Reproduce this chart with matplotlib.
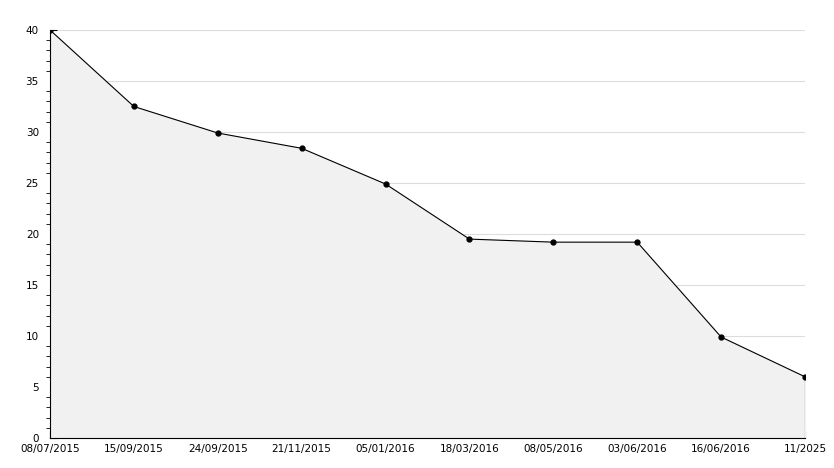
import numpy as np
import matplotlib.pyplot as plt

dates = ['08/07/2015', '15/09/2015', '24/09/2015', '21/11/2015', '05/01/2016',
         '18/03/2016', '08/05/2016', '03/06/2016', '16/06/2016', '11/2025']
values = [40, 32.5, 29.9, 28.4, 24.9, 19.5, 19.2, 19.2, 9.9, 6.0]

fig = plt.figure(figsize=(8.34, 4.68), dpi=100)
ax = fig.add_axes([50 / 834, 30 / 468, 755 / 834, 408 / 468])

x = np.arange(len(values))
ax.fill_between(x, values, 0, color='#f1f1f1', zorder=1)
ax.plot(x, values, color='black', lw=0.8, marker='o', ms=3.5, zorder=3)
ax.vlines(x[-1], 0, values[-1], color='black', lw=0.8, zorder=3)

ax.set_xlim(0, len(values) - 1)
ax.set_ylim(0, 40)
ax.set_xticks(x)
ax.set_xticklabels(dates)
ax.set_yticks(range(0, 41, 5))
ax.set_yticks(range(0, 41), minor=True)
ax.yaxis.grid(True, color='#dddddd', lw=0.8, zorder=0)
ax.set_axisbelow(True)

ax.tick_params(axis='both', direction='in', labelsize=7.5, color='black')
ax.tick_params(axis='y', which='major', length=5, pad=8)
ax.tick_params(axis='y', which='minor', length=3)
ax.tick_params(axis='x', length=5, pad=4)

for s in ['top', 'right']:
    ax.spines[s].set_visible(False)
for s in ['left', 'bottom']:
    ax.spines[s].set_linewidth(0.8)

fig.savefig('out.png', dpi=100)
